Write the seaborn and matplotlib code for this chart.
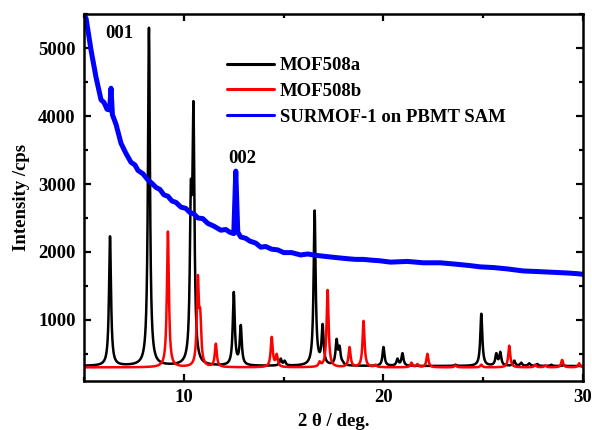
import numpy as np
import pandas as pd
import matplotlib
matplotlib.use("Agg")
import matplotlib.pyplot as plt
from matplotlib.ticker import MultipleLocator
import seaborn as sns

# Reflection lists: position (2 theta, deg) and peak intensity (cps)
mof508a_pos = [6.3, 8.25, 10.35, 10.48, 12.5, 12.85, 14.85, 15.05, 16.55, 16.95,
               17.65, 17.8, 17.95, 20.0, 20.7, 20.95, 23.6, 24.9, 25.65, 25.85,
               26.55, 26.9, 27.3, 27.7, 28.4, 29.0]
mof508a_int = [2230, 5300, 3050, 4220, 1410, 925, 430, 400, 2610, 940,
               720, 620, 400, 600, 430, 510, 340, 1090, 510, 530,
               400, 370, 360, 350, 340, 330]
mof508a_base = 320

mof508b_pos = [9.2, 10.7, 10.82, 11.6, 14.4, 14.65, 16.8, 17.2, 18.3, 19.0,
               19.6, 21.4, 21.7, 22.2, 23.6, 24.9, 26.3, 27.6, 28.1, 28.95, 29.8]
mof508b_int = [2300, 1660, 1160, 650, 750, 500, 390, 1440, 600, 985,
               340, 370, 350, 500, 330, 340, 620, 340, 330, 410, 360]
mof508b_base = 300
peak_fwhm = 0.12

# Measured SURMOF-1 pattern
surmof_x = [5.0, 5.1, 5.35, 5.6, 5.85, 6.0, 6.15, 6.28, 6.35, 6.42, 6.6, 6.85, 7.1, 7.35,
            7.55, 7.7, 7.95, 8.2, 8.4, 8.6, 8.8, 9.0, 9.2, 9.4, 9.6, 9.85, 10.1, 10.3,
            10.5, 10.7, 10.95, 11.2, 11.5, 11.85, 12.1, 12.3, 12.5, 12.6, 12.7, 12.85,
            13.1, 13.3, 13.6, 13.85, 14.1, 14.4, 14.7, 15.0, 15.4, 15.85, 16.2, 16.6,
            17.2, 17.85, 18.2, 18.6, 19.0, 19.35, 19.8, 20.35, 21.2, 22.0, 22.85, 23.6,
            24.3, 24.85, 25.5, 26.2, 27.0, 27.8, 28.5, 29.2, 29.7, 30.0]
surmof_y = [5480, 5440, 4970, 4570, 4240, 4200, 4100, 4090, 4410, 4020, 3880, 3600, 3450, 3320,
            3280, 3200, 3150, 3060, 3010, 2950, 2920, 2840, 2820, 2750, 2730, 2660, 2640, 2580,
            2560, 2500, 2490, 2420, 2380, 2320, 2330, 2290, 2270, 3190, 2290, 2220,
            2200, 2160, 2130, 2070, 2080, 2040, 2030, 1990, 1990, 1955, 1970, 1950,
            1930, 1910, 1900, 1890, 1890, 1880, 1870, 1850, 1860, 1840, 1840, 1820,
            1800, 1780, 1770, 1750, 1720, 1710, 1700, 1690, 1680, 1670]

two_theta = np.linspace(5, 30, 5001)


def profile(pos, inten, base):
    """Lorentzian reflections over a flat background; amplitudes are solved so
    that the summed curve reaches each listed intensity at its position."""
    hw = peak_fwhm / 2
    pos = np.asarray(pos, float)
    shape = lambda x, p: hw**2 / ((x - p) ** 2 + hw**2)
    A = shape(pos[:, None], pos[None, :])
    amp = np.linalg.solve(A, np.asarray(inten, float) - base)
    return base + shape(two_theta[:, None], pos[None, :]) @ amp


df_a = pd.DataFrame({"x": two_theta, "y": profile(mof508a_pos, mof508a_int, mof508a_base)})
df_b = pd.DataFrame({"x": two_theta, "y": profile(mof508b_pos, mof508b_int, mof508b_base)})
df_s = pd.DataFrame({"x": surmof_x, "y": surmof_y})

sns.set_theme(style="ticks")
plt.rcParams["font.family"] = ["Liberation Serif", "DejaVu Serif"]
plt.rcParams["font.weight"] = "bold"
for key in ("text.color", "axes.labelcolor", "xtick.color", "ytick.color", "axes.edgecolor"):
    plt.rcParams[key] = "black"

fig = plt.figure(figsize=(5.92, 4.30), dpi=100)
ax = fig.add_axes([0.142, 0.114, 0.843, 0.853])

sns.lineplot(data=df_a, x="x", y="y", ax=ax, color="black", lw=1.8, label="MOF508a", sort=False)
sns.lineplot(data=df_b, x="x", y="y", ax=ax, color="#ff0000", lw=1.8, label="MOF508b", sort=False)
sns.lineplot(data=df_s, x="x", y="y", ax=ax, color="#0000ff", lw=3.6,
             label="SURMOF-1 on PBMT SAM", sort=False)

ax.set_xlim(5, 30)
ax.set_ylim(100, 5500)
ax.xaxis.set_major_locator(MultipleLocator(10))
ax.xaxis.set_minor_locator(MultipleLocator(5))
ax.set_yticks([1000, 2000, 3000, 4000, 5000])
ax.yaxis.set_minor_locator(MultipleLocator(500))
ax.tick_params(which="both", direction="in", top=True, right=True, width=1.6,
               labelsize=13.5, pad=6, colors="black")
ax.tick_params(which="major", length=5)
ax.tick_params(which="minor", length=3)
for lbl in ax.get_xticklabels() + ax.get_yticklabels():
    lbl.set_fontweight("bold")
for sp in ax.spines.values():
    sp.set_linewidth(1.8)
    sp.set_color("black")

ax.set_xlabel("2 θ / deg.", fontsize=13.5, fontweight="bold", labelpad=5)
ax.set_ylabel("Intensity /cps", fontsize=13.5, fontweight="bold", labelpad=6)

ax.text(6.75, 5210, "001", fontsize=13.5, fontweight="bold", ha="center", va="center")
ax.text(12.9, 3370, "002", fontsize=13.5, fontweight="bold", ha="center", va="center")

leg = ax.legend(loc="upper left", bbox_to_anchor=(0.272, 0.903), frameon=False,
                prop={"size": 13.5, "weight": "bold"}, handlelength=2.5,
                handletextpad=0.3, labelspacing=0.45, borderaxespad=0)
for h in leg.get_lines():
    h.set_linewidth(2.2)

fig.savefig("out.png", dpi=100)
